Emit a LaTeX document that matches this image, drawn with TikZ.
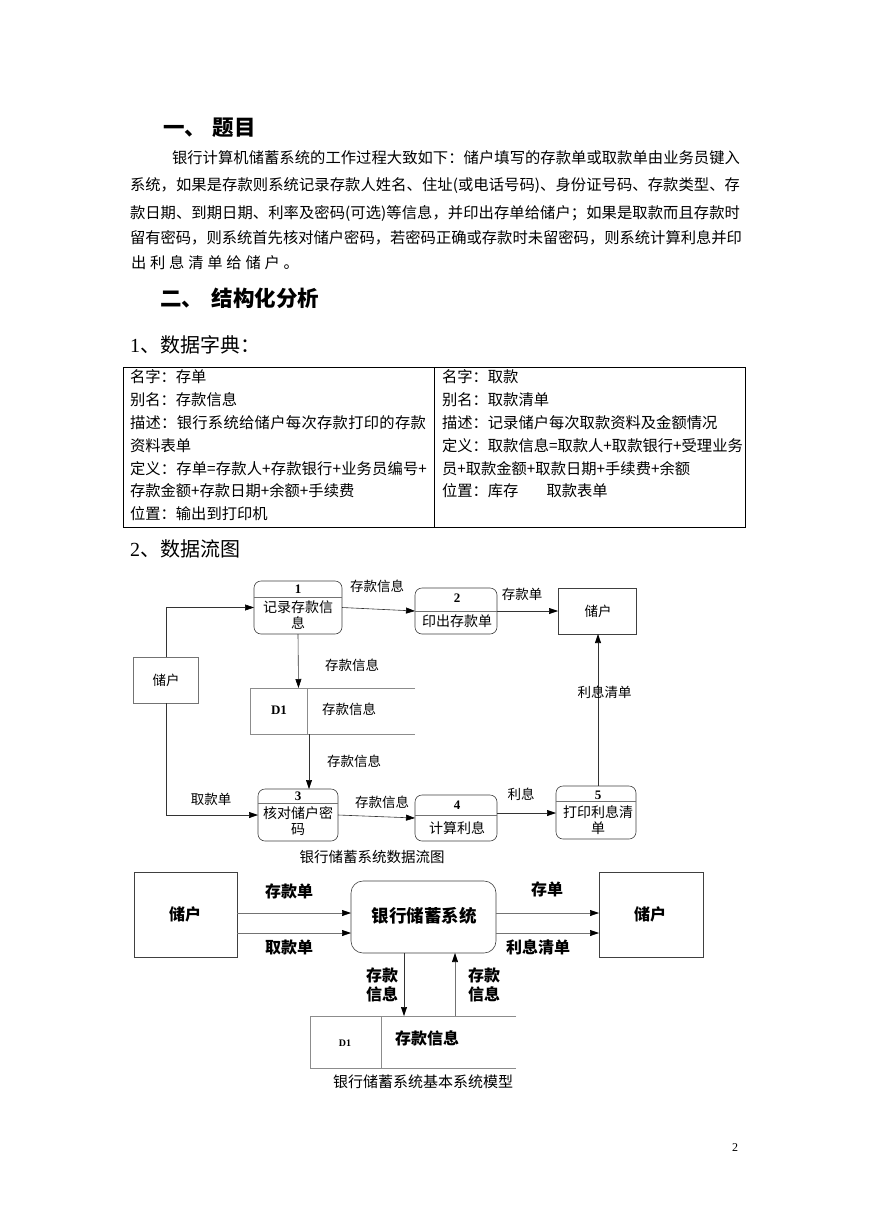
\documentclass[tikz,border=0pt]{standalone}
\usepackage{fontspec}
\setmainfont{Noto Sans CJK SC}
\newfontfamily\tms{Liberation Serif}
\usetikzlibrary{arrows.meta}
\def\spr#1#2{#1\ifx\relax#2\expandafter\sprgobble\else\hfil\expandafter\spr\fi#2}
\def\sprgobble#1{}
\newcommand\jline[2]{\makebox[#1][s]{\spr#2\relax}}
\begin{document}
\begin{tikzpicture}[x=1pt,y=-1pt,
  every node/.style={inner sep=0pt, outer sep=0pt},
  body/.style={font=\fontsize{15.3}{15.3}\selectfont, anchor=west},
  hone/.style={font=\fontsize{21.5}{21.5}\selectfont\bfseries, anchor=west},
  htwo/.style={font=\fontsize{20}{20}\selectfont, anchor=west},
  lab/.style={font=\fontsize{13.5}{13.5}\selectfont},
  ptxt/.style={font=\fontsize{14}{16}\selectfont, align=center},
  pnum/.style={font=\tms\bfseries\fontsize{13}{13}\selectfont},
  proc/.style={draw=black!75, line width=0.6pt, rounded corners=7pt},
  ent/.style={draw=black!75, line width=0.6pt},
  hdr/.style={draw=black!55, line width=0.5pt},
  store/.style={draw=black!45, line width=0.6pt},
  arr/.style={draw=black!80, line width=0.6pt, -{Triangle[length=9pt,width=6pt,color=black]}},
  blab/.style={font=\fontsize{16}{19}\selectfont\bfseries, align=center},
  captxt/.style={font=\fontsize{14.5}{14.5}\selectfont},
]
\useasboundingbox[fill=white] (0,0) rectangle (869,1228);

% ---- headings and paragraph
\node[hone] (t1) at (163,128) {一、\hspace{7pt}题目};
\node[body] (l1) at (172,158) {\jline{568pt}{银行计算机储蓄系统的工作过程大致如下：储户填写的存款单或取款单由业务员键入}};
\node[body] (l2) at (130,186) {\jline{610pt}{系统，如果是存款则系统记录存款人姓名、住址(或电话号码)、身份证号码、存款类型、存}};
\node[body] (l3) at (130,213) {\jline{610pt}{款日期、到期日期、利率及密码(可选)等信息，并印出存单给储户；如果是取款而且存款时}};
\node[body] (l4) at (130,238) {\jline{610pt}{留有密码，则系统首先核对储户密码，若密码正确或存款时未留密码，则系统计算利息并印}};
\node[body] (l5) at (131,263) {\jline{168pt}{出利息清单给储户。}};
\node[hone] (t2) at (160,298) {二、\hspace{9pt}结构化分析};
\node[htwo] (s1) at (130,345) {{\tms 1}、数据字典：};

% ---- table
\draw[line width=0.8pt] (123,367) rectangle (745,527);
\draw[line width=0.8pt] (434,367) -- (434,527);
\node[body] (a1) at (130,377) {名字：存单};
\node[body] (a2) at (130,400) {别名：存款信息};
\node[body] (a3) at (130,423) {\jline{296pt}{描述：银行系统给储户每次存款打印的存款}};
\node[body] (a4) at (130,446) {资料表单};
\node[body] (a5) at (130,469) {\jline{297pt}{定义：存单=存款人+存款银行+业务员编号+}};
\node[body] (a6) at (130,491) {存款金额+存款日期+余额+手续费};
\node[body] (a7) at (130,514) {位置：输出到打印机};
\node[body] (b1) at (442,377) {名字：取款};
\node[body] (b2) at (442,400) {别名：取款清单};
\node[body] (b3) at (442,423) {描述：记录储户每次取款资料及金额情况};
\node[body] (b4) at (442,446) {\jline{292pt}{定义：取款信息=取款人+取款银行+受理业务}};
\node[body] (b5) at (442,469) {员+取款金额+取款日期+手续费+余额};
\node[body] (b6) at (442,491) {位置：库存\hspace{28pt}取款表单};

\node[htwo] (s2) at (130,549) {{\tms 2}、数据流图};

% ---- DFD 1
\node[proc, minimum width=88pt, minimum height=53pt] (p1) at (298,607.5) {};
\draw[hdr] ([yshift=-16pt]p1.north west) -- ([yshift=-16pt]p1.north east);
\node[pnum] (p1n) at (298,589) {1};
\node[ptxt] (p1t) at (298,615.5) {记录存款信\\息};

\node[proc, minimum width=82pt, minimum height=46pt] (p2) at (456,611) {};
\draw[hdr] ([yshift=-23pt]p2.north west) -- ([yshift=-23pt]p2.north east);
\node[pnum] (p2n) at (457,598) {2};
\node[ptxt] (p2t) at (457,621) {印出存款单};

\node[ent, minimum width=78pt, minimum height=46pt] (ur) at (597,611) {};
\node[lab] (urt) at (598,611) {储户};

\node[ent, draw=black!55, minimum width=65pt, minimum height=46pt] (ul) at (166,680) {};
\node[lab] (ult) at (166,680) {储户};

% data store D1
\coordinate (d1tl) at (250,688);
\coordinate (d1bl) at (250,734);
\coordinate (d1tr) at (415,688);
\coordinate (d1br) at (415,734);
\draw[store] (d1tr) -- (d1tl) -- (d1bl) -- (d1br);
\draw[store] (307,688) -- (307,734);
\node[pnum] (d1n) at (279,710) {D1};
\node[lab] (d1t) at (349,709) {存款信息};
\coordinate (d1top) at (298.5,688);
\coordinate (d1bot) at (309,734);

\node[proc, minimum width=80pt, minimum height=52pt] (p3) at (298,815) {};
\draw[hdr] ([yshift=-14pt]p3.north west) -- ([yshift=-14pt]p3.north east);
\node[pnum] (p3n) at (298,796) {3};
\node[ptxt] (p3t) at (298,821.5) {核对储户密\\码};

\node[proc, minimum width=82pt, minimum height=46pt] (p4) at (456,818) {};
\draw[hdr] ([yshift=-20pt]p4.north west) -- ([yshift=-20pt]p4.north east);
\node[pnum] (p4n) at (457,805) {4};
\node[ptxt] (p4t) at (457,828) {计算利息};

\node[proc, minimum width=80pt, minimum height=53pt] (p5) at (596,812.5) {};
\draw[hdr] ([yshift=-15pt]p5.north west) -- ([yshift=-15pt]p5.north east);
\node[pnum] (p5n) at (598,795) {5};
\node[ptxt] (p5t) at (598,820.5) {打印利息清\\单};

% connectors
\draw[arr] (ul.north) |- (p1.west);
\draw[arr] (ul.south) |- (p3.west);
\draw[arr] (p1.east) -- (p2.west);
\draw[arr] (p2.east) -- (ur.west);
\draw[arr] (p1.south) -- (d1top);
\draw[arr] (d1bot) -- (d1bot |- p3.north);
\draw[arr] (p3.east) -- (p4.west);
\coordinate (p4o) at ([yshift=5pt]p4.east);
\draw[arr] (p4o) -- (p4o -| p5.west);
\draw[arr] ([xshift=2pt]p5.north) -- ([xshift=2pt]p5.north |- ur.south);

\node[lab] (c1) at (377,586) {存款信息};
\node[lab] (c2) at (522,594) {存款单};
\node[lab] (c3) at (352,665) {存款信息};
\node[lab] (c4) at (354,761) {存款信息};
\node[lab] (c5) at (211,799) {取款单};
\node[lab] (c6) at (382,802) {存款信息};
\node[lab] (c7) at (521,794) {利息};
\node[lab] (c8) at (604.5,692) {利息清单};
\node[captxt] (cap1) at (372,857) {银行储蓄系统数据流图};

% ---- DFD 0 (context)
\node[ent, minimum width=103pt, minimum height=85pt] (el) at (185.5,914.5) {};
\node[blab] (elt) at (185,914) {储户};
\node[proc, rounded corners=12pt, minimum width=145pt, minimum height=72pt] (sys) at (423.5,917) {};
\node[font=\fontsize{17.5}{17.5}\selectfont\bfseries] (syst) at (424,916) {银行储蓄系统};
\node[ent, minimum width=104pt, minimum height=85pt] (er) at (651,914.5) {};
\node[blab] (ert) at (650,914) {储户};

\coordinate (a1s) at (237,913);
\coordinate (a2s) at (237,933);
\coordinate (a3s) at (496,913);
\coordinate (a4s) at (496,933);
\draw[arr, draw=black!55] (a1s) -- (a1s -| sys.west);
\draw[arr, draw=black!55] (a2s) -- (a2s -| sys.west);
\draw[arr, draw=black!55] (a3s) -- (a3s -| er.west);
\draw[arr, draw=black!55] (a4s) -- (a4s -| er.west);

% D1 store (context)
\draw[store] (516,1016) -- (310,1016) -- (310,1068) -- (516,1068);
\draw[store] (381,1016) -- (381,1068);
\node[font=\tms\bfseries\fontsize{10}{10}\selectfont] (dd) at (345,1043) {D1};
\node[blab] (ddt) at (427,1038) {存款信息};
\coordinate (dtop1) at (404,1016);
\coordinate (dtop2) at (455,1016);
\draw[arr] (dtop1 |- sys.south) -- (dtop1);
\draw[arr, draw=black!55] (dtop2) -- (dtop2 |- sys.south);

\node[blab] (k1) at (289,891) {存款单};
\node[blab] (k2) at (289,947) {取款单};
\node[blab] (k3) at (547,889) {存单};
\node[blab] (k4) at (538,947) {利息清单};
\node[blab] (k5) at (382,985) {存款\\信息};
\node[blab] (k6) at (484,985) {存款\\信息};
\node[font=\fontsize{15}{15}\selectfont] (cap2) at (423,1082) {银行储蓄系统基本系统模型};

\node[font=\tms\fontsize{12}{12}\selectfont] (pg) at (735,1148) {2};
\end{tikzpicture}
\end{document}
